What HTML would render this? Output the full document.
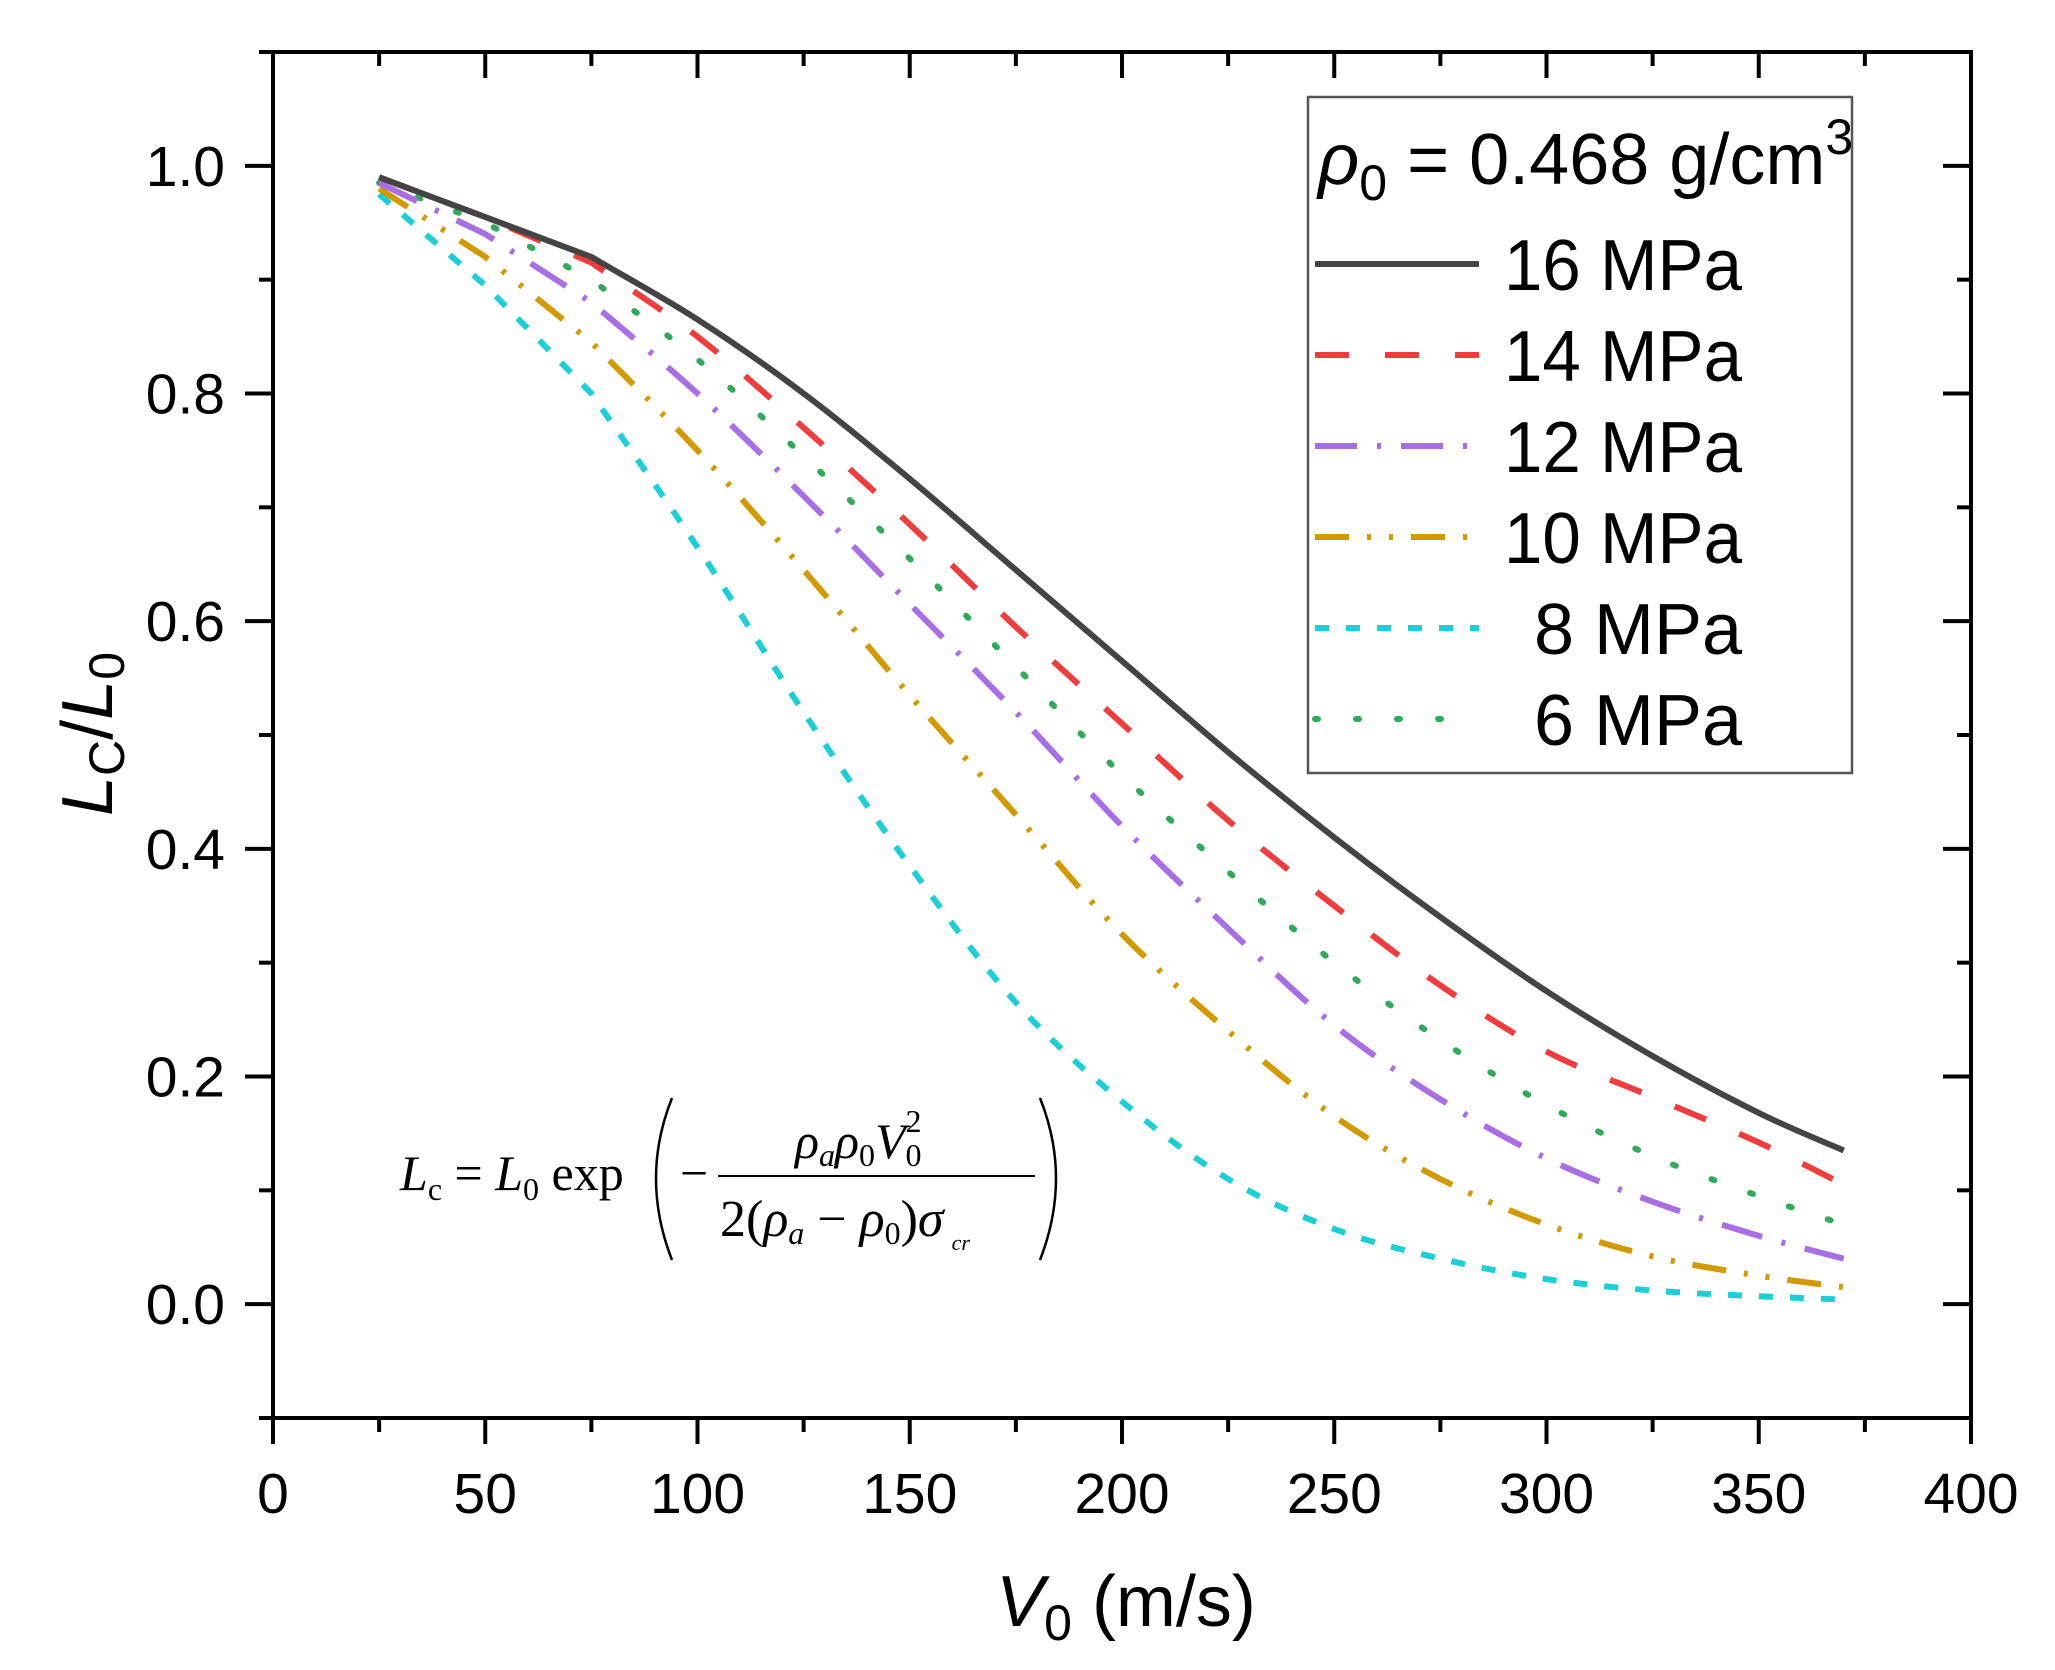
<!DOCTYPE html>
<html><head><meta charset="utf-8"><style>
html,body{margin:0;padding:0;background:#fff;}
svg{display:block;}
.sans{font-family:"Liberation Sans",sans-serif;}
.serif{font-family:"Liberation Serif",serif;}
</style></head><body>
<svg id="chart" width="2055" height="1670" viewBox="0 0 2055 1670" xmlns="http://www.w3.org/2000/svg">
<g id="plot"></g>
<g id="axes" class="sans"></g>
<g id="legend" class="sans">
  <rect x="1308" y="97" width="544" height="676" fill="#fff" stroke="#555" stroke-width="2.5"/>
  <text x="1318" y="184" font-size="72" fill="#000" class="sans"><tspan font-style="italic">ρ</tspan><tspan font-size="50" dy="16">0</tspan><tspan dy="-16"> = 0.468 g/cm</tspan><tspan font-size="50" dy="-30">3</tspan></text>
</g>
<g class="serif" fill="#000">
  <text class="serif" x="400" y="1190" font-size="50"><tspan font-style="italic">L</tspan><tspan font-size="32" dy="10">c</tspan><tspan dy="-10"> = </tspan><tspan font-style="italic">L</tspan><tspan font-size="32" dy="10">0</tspan><tspan dy="-10"> exp</tspan></text>
  <path d="M672,1098 Q640,1178 672,1260" fill="none" stroke="#000" stroke-width="2.5"/>
  <path d="M1040,1098 Q1072,1178 1040,1260" fill="none" stroke="#000" stroke-width="2.5"/>
  <text class="serif" x="680" y="1190" font-size="50">−</text>
  <text class="serif" x="795" y="1158" font-size="50" font-style="italic">ρ<tspan font-size="32" dy="8">a</tspan><tspan dy="-8">ρ</tspan><tspan font-size="32" font-style="normal" dy="8">0</tspan><tspan dy="-8">V</tspan><tspan font-size="32" font-style="normal" dy="8">0</tspan><tspan font-size="32" font-style="normal" dx="-16" dy="-34">2</tspan></text>
  <line x1="718" y1="1176" x2="1035" y2="1176" stroke="#000" stroke-width="2"/>
  <text class="serif" x="720" y="1236" font-size="52">2(<tspan font-style="italic">ρ</tspan><tspan font-size="32" font-style="italic" dy="8">a</tspan><tspan dy="-8"> − </tspan><tspan font-style="italic">ρ</tspan><tspan font-size="32" dy="8">0</tspan><tspan dy="-8">)</tspan><tspan font-style="italic">σ</tspan><tspan font-size="22" font-style="italic" dy="14" dx="8">cr</tspan></text>
</g>
<text class="sans" x="1126" y="1626" font-size="72" text-anchor="middle"><tspan font-style="italic">V</tspan><tspan font-size="50" dy="14">0</tspan><tspan dy="-14"> (m/s)</tspan></text>
<text class="sans" transform="translate(112,734) rotate(-90)" font-size="72" text-anchor="middle"><tspan font-style="italic">L</tspan><tspan font-size="50" dy="12">C</tspan><tspan dy="-12">/</tspan><tspan font-style="italic">L</tspan><tspan font-size="50" dy="12">0</tspan></text>
</svg>
<script>
const xValues = [25,50,75,100,125,150,175,200,225,250,275,300,325,350,370];
const s16 = [0.99,0.955,0.92,0.865,0.80,0.725,0.645,0.565,0.485,0.41,0.34,0.275,0.218,0.168,0.135];
const s14 = [0.99,0.955,0.915,0.85,0.77,0.685,0.595,0.51,0.425,0.35,0.28,0.222,0.182,0.142,0.105];
const s12 = [0.985,0.94,0.88,0.80,0.71,0.615,0.52,0.42,0.33,0.245,0.18,0.128,0.09,0.06,0.04];
const s10 = [0.98,0.92,0.845,0.75,0.645,0.535,0.43,0.325,0.24,0.165,0.11,0.07,0.042,0.025,0.015];
const s8 = [0.975,0.895,0.80,0.665,0.52,0.385,0.265,0.178,0.11,0.066,0.04,0.022,0.012,0.007,0.004];
const s6 = [0.985,0.95,0.90,0.83,0.745,0.655,0.56,0.465,0.38,0.3,0.232,0.175,0.13,0.095,0.07];
const seriesNames = ["16 MPa","14 MPa","12 MPa","10 MPa","8 MPa","6 MPa"];
const xTicks = [0,50,100,150,200,250,300,350,400];
const yTicks = [0.0,0.2,0.4,0.6,0.8,1.0];
const yTickLabels = ["0.0","0.2","0.4","0.6","0.8","1.0"];

const NS="http://www.w3.org/2000/svg";
const L=273,R=1971,T=52,B=1418;
const xMin=0,xMax=400,yMin=-0.1,yMax=1.1;
function sx(v){return L+(v-xMin)/(xMax-xMin)*(R-L);}
function sy(v){return B-(v-yMin)/(yMax-yMin)*(B-T);}
function mk(tag,attrs,parent){const e=document.createElementNS(NS,tag);for(const k in attrs)e.setAttribute(k,attrs[k]);parent.appendChild(e);return e;}

const styles=[
 {c:"#444444",d:"none"},
 {c:"#f03c3c",d:"34 36"},
 {c:"#a86ee6",d:"42 20 4 20"},
 {c:"#d39a00",d:"34 18 4 18 4 18"},
 {c:"#1ccfd6",d:"14 17"},
 {c:"#2eaa5a",d:"3 38"}
];
const allSeries=[s16,s14,s12,s10,s8,s6];
const seriesKeys=["16-mpa","14-mpa","12-mpa","10-mpa","8-mpa","6-mpa"];
const plot=document.getElementById('plot');

function pathFor(vals){
  const pts=xValues.map((x,i)=>[sx(x),sy(vals[i])]);
  let d="M"+pts[0][0].toFixed(1)+","+pts[0][1].toFixed(1)+" L"+pts[1][0].toFixed(1)+","+pts[1][1].toFixed(1)+" L"+pts[2][0].toFixed(1)+","+pts[2][1].toFixed(1);
  for(let i=2;i<pts.length-1;i++){
    const p0=pts[i-1],p1=pts[i],p2=pts[i+1],p3=pts[Math.min(i+2,pts.length-1)];
    const q0 = i===2 ? [2*p1[0]-p2[0],2*p1[1]-p2[1]] : p0;
    const c1=[p1[0]+(p2[0]-q0[0])/6,p1[1]+(p2[1]-q0[1])/6];
    const c2=[p2[0]-(p3[0]-p1[0])/6,p2[1]-(p3[1]-p1[1])/6];
    d+=" C"+c1[0].toFixed(1)+","+c1[1].toFixed(1)+" "+c2[0].toFixed(1)+","+c2[1].toFixed(1)+" "+p2[0].toFixed(1)+","+p2[1].toFixed(1);
  }
  return d;
}
for(let k=allSeries.length-1;k>=0;k--){
  const p=mk('path',{d:pathFor(allSeries[k]),fill:"none",stroke:styles[k].c,"stroke-width":6,"stroke-dasharray":styles[k].d,"stroke-linecap":k===5?"round":"butt","stroke-linejoin":"round"},plot);
  
  
}

const axes=document.getElementById('axes');
const frame=mk('rect',{x:L,y:T,width:R-L,height:B-T,fill:"none",stroke:"#000","stroke-width":4},axes);


for(let v=0;v<=400;v+=25){
  const major=v%50===0;
  const x=sx(v);
  const t1=mk('line',{x1:x,y1:B,x2:x,y2:B+(major?26:14),stroke:"#000","stroke-width":4},axes);
  
  
  const t2=mk('line',{x1:x,y1:T,x2:x,y2:T+(major?26:14),stroke:"#000","stroke-width":4},axes);
  
  
}
xTicks.forEach(v=>{
  const t=mk('text',{x:sx(v),y:1513,"font-size":57,"text-anchor":"middle",fill:"#000"},axes);
  t.textContent=String(v);
  
  
});
for(let i=-1;i<=11;i++){
  const v=i/10;
  const major=i%2===0;
  const y=sy(v);
  const t1=mk('line',{x1:L,y1:y,x2:L-(major?28:14),y2:y,stroke:"#000","stroke-width":4},axes);
  
  
  const t2=mk('line',{x1:R,y1:y,x2:R-(major?28:14),y2:y,stroke:"#000","stroke-width":4},axes);
  
  
}
yTicks.forEach((v,i)=>{
  const t=mk('text',{x:225,y:sy(v)+20,"font-size":57,"text-anchor":"end",fill:"#000"},axes);
  t.textContent=yTickLabels[i];
  
  
});
const legend=document.getElementById('legend');
seriesNames.forEach((n,k)=>{
  const base=290+k*91;
  const ln=mk('line',{x1:1315,y1:base-26,x2:1479,y2:base-26,stroke:styles[k].c,"stroke-width":6,"stroke-dasharray":styles[k].d,"stroke-linecap":k===5?"round":"butt"},legend);
  
  
  const t=mk('text',{x:1742,y:base,"font-size":72,"text-anchor":"end",fill:"#000",textLength:(n.length===6?238:208),lengthAdjust:"spacingAndGlyphs"},legend);
  t.textContent=n;
  
  
});
</script>
</body></html>
